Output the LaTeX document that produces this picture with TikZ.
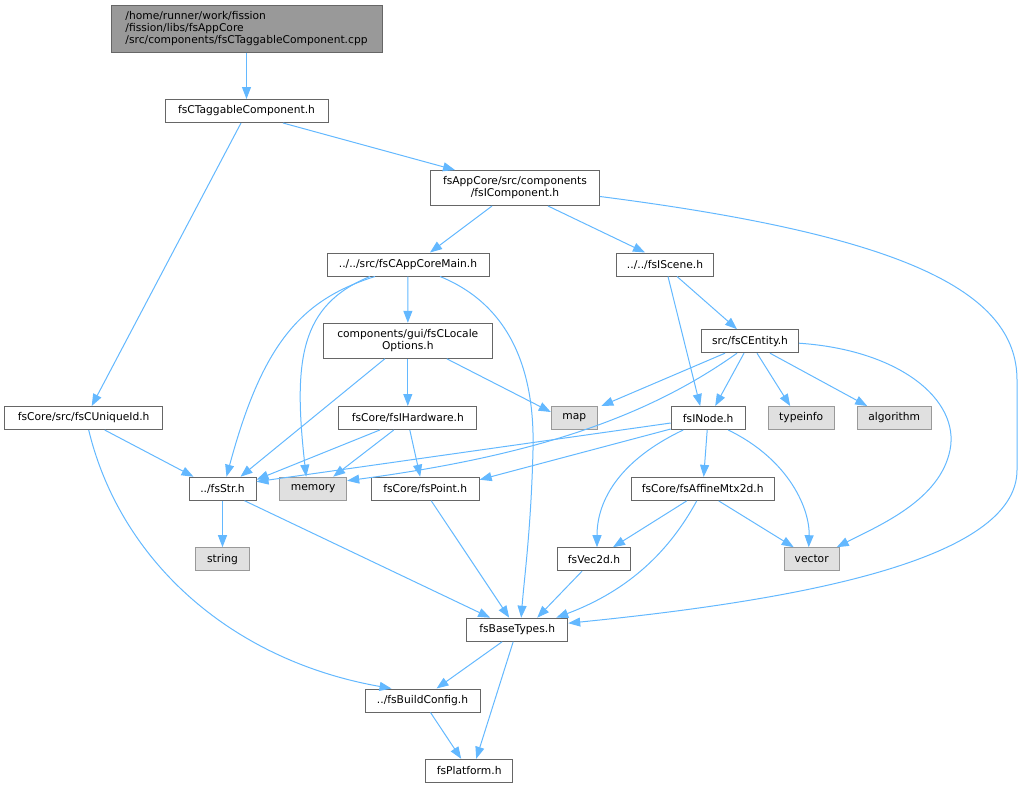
\documentclass[tikz,border=0pt]{standalone}
\usepackage{fontspec}
\setmainfont{DejaVu Sans}
\usetikzlibrary{arrows.meta}
\definecolor{edgeblue}{HTML}{63B8FF}
\definecolor{boxgray}{HTML}{999999}
\definecolor{sysgray}{HTML}{E0E0E0}
\begin{document}
\begin{tikzpicture}[x=1pt, y=-1pt, >={Triangle[length=12pt,width=9pt]},
    file/.style={draw=black!60, fill=white, line width=1pt, inner sep=0pt, minimum height=23pt, font=\fontsize{10.7}{12}\selectfont},
    sys/.style={file, draw=boxgray, fill=sysgray},
    dep/.style={->, edgeblue, line width=1pt}]
\useasboundingbox (0,0) rectangle (1032,788);
\node[file, fill=boxgray, minimum width=271pt, minimum height=47pt, align=left] (root) at (246.5,28.5) {/home/runner/work/fission\\/fission/libs/fsAppCore\\/src/components/fsCTaggableComponent.cpp};
\node[file, minimum width=163pt] (tag) at (246.5,111) {fsCTaggableComponent.h};
\node[file, minimum width=169pt, minimum height=35pt, align=center] (comp) at (515,188) {fsAppCore/src/components\\/fsIComponent.h};
\node[file, minimum width=162pt] (main) at (408,264.5) {../../src/fsCAppCoreMain.h};
\node[file, minimum width=97pt] (scene) at (665,264.5) {../../fsIScene.h};
\node[file, minimum width=97pt] (entity) at (750,341.2) {src/fsCEntity.h};
\node[file, minimum width=169pt, minimum height=35pt, align=center] (locale) at (407.8,340.8) {components/gui/fsCLocale\\Options.h};
\node[sys, minimum width=46pt] (map) at (574.3,418) {map};
\node[file, minimum width=74pt] (inode) at (708.2,418) {fsINode.h};
\node[sys, minimum width=66pt] (typeinfo) at (801.2,418) {typeinfo};
\node[sys, minimum width=74pt] (algorithm) at (894.2,418) {algorithm};
\node[file, minimum width=158pt] (uniqueid) at (83.7,418) {fsCore/src/fsCUniqueId.h};
\node[file, minimum width=138pt] (hardware) at (407.8,418) {fsCore/fsIHardware.h};
\node[file, minimum width=67pt] (fsstr) at (222.5,488.7) {../fsStr.h};
\node[sys, minimum width=67pt] (memory) at (313.2,488.7) {memory};
\node[file, minimum width=108pt] (point) at (425.2,488.7) {fsCore/fsPoint.h};
\node[file, minimum width=143pt] (affine) at (702.7,488.9) {fsCore/fsAffineMtx2d.h};
\node[sys, minimum width=54pt] (string) at (222.5,559.2) {string};
\node[file, minimum width=73pt] (vec2d) at (594,559.2) {fsVec2d.h};
\node[sys, minimum width=55pt] (vector) at (811.7,559.2) {vector};
\node[file, minimum width=101pt] (basetypes) at (517.2,629.7) {fsBaseTypes.h};
\node[file, minimum width=115pt] (buildcfg) at (422.5,700.5) {../fsBuildConfig.h};
\node[file, minimum width=87pt] (platform) at (469.2,770.8) {fsPlatform.h};
\draw[dep] (root.south) -- (tag.north);
\draw[dep] ([xshift=36.5]tag.south) -- ([xshift=-60]comp.north);
\draw[dep] ([xshift=-5.5]tag.south) -- ([xshift=8]uniqueid.north);
\draw[dep] ([xshift=-23]comp.south) -- ([xshift=22]main.north);
\draw[dep] ([xshift=33]comp.south) -- ([xshift=-20]scene.north);
\draw[dep] ([yshift=-8.5]comp.east) .. controls (900,235) and (1017,290) .. (1017,380) -- (1017,470) .. controls (1017,560) and (800,600) .. ([yshift=6.5]basetypes.east);
\draw[dep] ([xshift=-33]main.south) .. controls (300,300) and (262,345) .. ([xshift=4]fsstr.north);
\draw[dep] ([xshift=-38]main.south) .. controls (300,305) and (293,360) .. ([xshift=-7]memory.north);
\draw[dep] (main) -- (locale);
\draw[dep] ([xshift=32]main.south) .. controls (510,305) and (535,370) .. (533,450) .. controls (531,530) and (524,580) .. ([xshift=4]basetypes.north);
\draw[dep] ([xshift=12]scene.south) -- ([xshift=-13]entity.north);
\draw[dep] ([xshift=3]scene.south) -- ([xshift=-8]inode.north);
\draw[dep] ([xshift=-25]entity.south) -- ([xshift=27]map.north);
\draw[dep] ([xshift=-6]entity.south) -- ([xshift=7]inode.north);
\draw[dep] ([xshift=7]entity.south) -- ([xshift=-11]typeinfo.north);
\draw[dep] ([xshift=20]entity.south) -- ([xshift=-27]algorithm.north);
\draw[dep] ([yshift=-2]entity.east) .. controls (900,350) and (960,400) .. (950,450) .. controls (940,500) and (880,525) .. ([xshift=25]vector.north);
\draw[dep] ([xshift=-13]entity.south) .. controls (650,415) and (540,455) .. ([yshift=8]memory.east);
\draw[dep] ([yshift=-5]inode.west) -- ([yshift=7]fsstr.east);
\draw[dep] ([xshift=-23]locale.south) -- ([xshift=18]fsstr.north);
\draw[dep] (locale) -- (hardware);
\draw[dep] ([xshift=39]locale.south) -- ([yshift=6]map.west);
\draw[dep] ([xshift=-28]hardware.south) -- ([yshift=9]fsstr.east);
\draw[dep] ([xshift=-14]hardware.south) -- ([xshift=20]memory.north);
\draw[dep] ([xshift=2]hardware.south) -- ([xshift=-5]point.north);
\draw[dep] ([yshift=-11]inode.west) -- ([yshift=9]point.east);
\draw[dep] ([xshift=21]uniqueid.south) -- ([xshift=-29]fsstr.north);
\draw[dep] ([xshift=5]uniqueid.south) .. controls (120,560) and (230,660) .. ([xshift=-31]buildcfg.north);
\draw[dep] (fsstr) -- (string);
\draw[dep] ([xshift=22]fsstr.south) -- ([xshift=-27]basetypes.north);
\draw[dep] ([xshift=6]point.south) -- ([xshift=-8]basetypes.north);
\draw[dep] ([xshift=-1]inode.south) -- ([xshift=1]affine.north);
\draw[dep] ([xshift=-25]inode.south) .. controls (620,460) and (597,500) .. ([xshift=3]vec2d.north);
\draw[dep] ([xshift=20]inode.south) .. controls (790,460) and (810,510) .. ([xshift=-3]vector.north);
\draw[dep] ([xshift=-16]affine.south) -- ([xshift=19]vec2d.north);
\draw[dep] ([xshift=16]affine.south) -- ([xshift=-18]vector.north);
\draw[dep] ([xshift=-6]affine.south) .. controls (670,550) and (630,590) .. ([xshift=39]basetypes.north);
\draw[dep] ([xshift=-12]vec2d.south) -- ([xshift=20]basetypes.north);
\draw[dep] ([xshift=-15]basetypes.south) -- ([xshift=14]buildcfg.north);
\draw[dep] ([xshift=-4]basetypes.south) -- ([xshift=7]platform.north);
\draw[dep] ([xshift=8]buildcfg.south) -- ([xshift=-8]platform.north);
\end{tikzpicture}
\end{document}
